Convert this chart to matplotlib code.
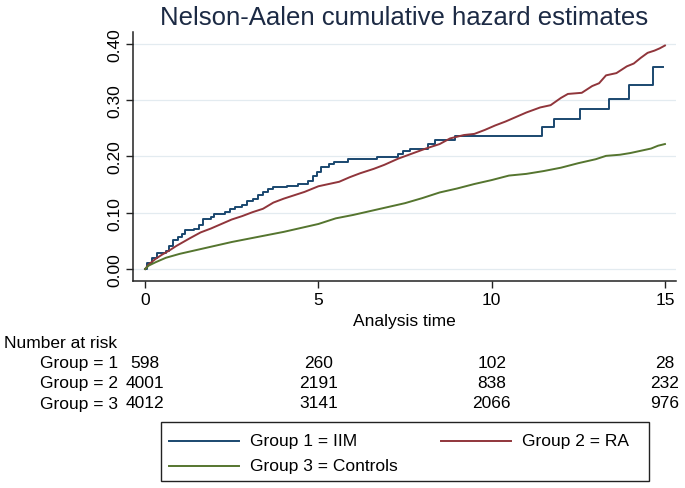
import matplotlib
matplotlib.use("Agg")
import matplotlib.pyplot as plt
import matplotlib.transforms as mtransforms
from matplotlib.lines import Line2D
from matplotlib.patches import Rectangle

plt.rcParams['font.family'] = ['Liberation Sans', 'DejaVu Sans']

# Group 1 = IIM (step estimates)
t_iim = [0, 0.05, 0.2, 0.35, 0.6, 0.7, 0.8, 0.95, 1.05, 1.15, 1.4, 1.55, 1.68, 1.9,
         2.0, 2.3, 2.45, 2.6, 2.8, 2.95, 3.1, 3.25, 3.4, 3.55, 3.7, 4.1, 4.4, 4.7,
         4.85, 4.95, 5.08, 5.3, 5.45, 5.85, 6.7, 7.3, 7.45, 7.65, 8.15, 8.35, 8.95,
         11.45, 11.8, 12.55, 13.4, 13.95, 14.65, 14.93]
v_iim = [0, 0.010, 0.020, 0.029, 0.032, 0.040, 0.052, 0.056, 0.062, 0.070, 0.071, 0.078,
         0.089, 0.092, 0.098, 0.102, 0.106, 0.110, 0.114, 0.120, 0.125, 0.131, 0.137,
         0.142, 0.146, 0.148, 0.151, 0.157, 0.165, 0.173, 0.182, 0.187, 0.190, 0.196,
         0.199, 0.204, 0.209, 0.213, 0.222, 0.230, 0.237, 0.252, 0.266, 0.284, 0.302,
         0.326, 0.358, 0.358]

# Group 2 = RA
t_ra = [0, 0.1, 0.3, 0.5, 0.7, 0.9, 1.1, 1.3, 1.6, 1.9, 2.2, 2.5, 2.8, 3.1, 3.4, 3.7,
        4.0, 4.3, 4.6, 5.0, 5.3, 5.6, 5.9, 6.2, 6.6, 6.9, 7.3, 7.7, 8.1, 8.5, 8.8, 9.2,
        9.5, 9.8, 10.1, 10.4, 10.7, 11.0, 11.4, 11.7, 12.0, 12.2, 12.6, 12.9, 13.1,
        13.3, 13.6, 13.9, 14.1, 14.3, 14.5, 14.7, 14.85, 15.0]
v_ra = [0, 0.008, 0.018, 0.026, 0.033, 0.041, 0.048, 0.055, 0.065, 0.072, 0.080, 0.088,
        0.094, 0.101, 0.107, 0.118, 0.125, 0.131, 0.137, 0.147, 0.151, 0.155, 0.163,
        0.170, 0.178, 0.185, 0.196, 0.205, 0.214, 0.222, 0.232, 0.238, 0.240, 0.247,
        0.255, 0.262, 0.270, 0.278, 0.287, 0.291, 0.304, 0.311, 0.313, 0.325, 0.330,
        0.344, 0.348, 0.360, 0.365, 0.375, 0.384, 0.388, 0.392, 0.397]

# Group 3 = Controls
t_ctrl = [0, 0.1, 0.3, 0.6, 1.0, 1.5, 2.0, 2.5, 3.0, 3.5, 4.0, 4.5, 5.0, 5.5, 6.0, 6.5,
          7.0, 7.5, 8.0, 8.5, 9.0, 9.5, 10.0, 10.5, 11.0, 11.5, 12.0, 12.5, 13.0, 13.3,
          13.7, 14.0, 14.3, 14.6, 14.8, 15.0]
v_ctrl = [0, 0.006, 0.012, 0.020, 0.027, 0.034, 0.041, 0.048, 0.054, 0.060, 0.066,
          0.073, 0.080, 0.090, 0.096, 0.103, 0.110, 0.117, 0.126, 0.136, 0.143, 0.151,
          0.158, 0.166, 0.169, 0.174, 0.180, 0.188, 0.195, 0.201, 0.203, 0.206, 0.210,
          0.214, 0.219, 0.222]

risk_times = [0, 5, 10, 15]
risk_labels = ['Group = 1', 'Group = 2', 'Group = 3']
risk_g1 = [598, 260, 102, 28]
risk_g2 = [4001, 2191, 838, 232]
risk_g3 = [4012, 3141, 2066, 976]

legend_labels = ['Group 1 = IIM', 'Group 2 = RA', 'Group 3 = Controls']
colors = ['#1a476f', '#90353b', '#55752f']

W, H = 685, 489
fig = plt.figure(figsize=(6.85, 4.89), dpi=100)
ax = fig.add_axes([0.1942, 0.4233, 0.7927, 0.5092])

ax.plot(t_iim, v_iim, drawstyle='steps-post', color=colors[0], lw=1.4)
ax.plot(t_ra, v_ra, color=colors[1], lw=1.4)
ax.plot(t_ctrl, v_ctrl, color=colors[2], lw=1.4)

ax.set_xlim(-0.35, 15.32)
ax.set_ylim(-0.0213, 0.421)
ax.set_xticks([0, 5, 10, 15])
ax.set_yticks([0, 0.1, 0.2, 0.3, 0.4])
ax.set_yticklabels(['%.2f' % v for v in [0, 0.1, 0.2, 0.3, 0.4]], rotation=90, va='center')
ax.grid(axis='y', color='#e3ebf0', lw=0.9)
ax.set_axisbelow(True)
for s in ['top', 'right']:
    ax.spines[s].set_visible(False)
for s in ['left', 'bottom']:
    ax.spines[s].set_color('#222222')
    ax.spines[s].set_linewidth(1.1)
ax.tick_params(direction='out', length=5, width=1.0, color='#222222', labelsize=12.5, pad=3)

fig.text(0.5905, 0.963, 'Nelson-Aalen cumulative hazard estimates', ha='center', va='center',
         fontsize=18.5, color='#1c2a44')
fig.text(0.5905, 0.342, 'Analysis time', ha='center', va='center', fontsize=12.5)

# number at risk table under the axis
tr = mtransforms.blended_transform_factory(ax.transData, fig.transFigure)
fig.text(4 / W, 1 - 343 / H, 'Number at risk', ha='left', va='center', fontsize=12.5)
row_y = [1 - 364 / H, 1 - 384 / H, 1 - 404 / H]
for lab, counts, y in zip(risk_labels, [risk_g1, risk_g2, risk_g3], row_y):
    fig.text(40 / W, y, lab, ha='left', va='center', fontsize=12.5)
    for t, n in zip(risk_times, counts):
        ax.text(t, y, str(n), ha='center', va='center', fontsize=12.5, transform=tr)

# legend box drawn by hand (Stata style, two columns, row-wise order)
fig.add_artist(Rectangle((161 / W, 1 - 482 / H), (649 - 161) / W, (482 - 423) / H,
                         transform=fig.transFigure, facecolor='white',
                         edgecolor='#222222', lw=1.0))
col_x = [169, 441]
row_ly = [442, 467]
for i, (lab, c) in enumerate(zip(legend_labels, colors)):
    x0 = col_x[i % 2]
    y0 = 1 - row_ly[i // 2] / H
    fig.add_artist(Line2D([x0 / W, (x0 + 70) / W], [y0, y0], transform=fig.transFigure,
                          color=c, lw=1.4))
    fig.text((x0 + 81) / W, y0, lab, ha='left', va='center', fontsize=12.5)

fig.savefig('out.png', dpi=100)
